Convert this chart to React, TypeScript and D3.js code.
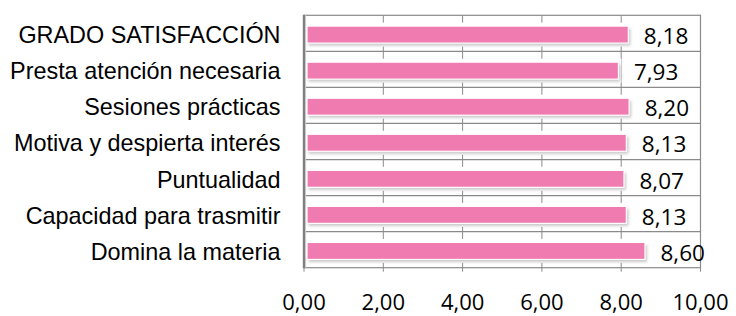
import { useMemo } from "react";
import * as d3 from "d3";

// categories top to bottom, values as printed on the chart
const categories = [
  "GRADO SATISFACCIÓN",
  "Presta atención necesaria",
  "Sesiones prácticas",
  "Motiva y despierta interés",
  "Puntualidad",
  "Capacidad para trasmitir",
  "Domina la materia",
];
const values = [8.18, 7.93, 8.2, 8.13, 8.07, 8.13, 8.6];
const xTicks = [0, 2, 4, 6, 8, 10];

const W = 736;
const H = 316;
const fmt = (v: number) => v.toFixed(2).replace(".", ",");

export default function App() {
  const x = useMemo(() => d3.scaleLinear().domain([0, 10]).range([304, 700.5]), []);
  const y = useMemo(
    () => d3.scaleBand<string>().domain(categories).range([15.3, 267.7]).padding(0),
    []
  );
  const left = x(0);
  const right = x(10);
  const top = y.range()[0];
  const bottom = y.range()[1];

  const barH = 17;
  const barOff = 10.8; // bar sits a little below the band centre

  return (
    <div style={{ position: "fixed", left: 0, top: 0 }}>
      <svg width={W} height={H} style={{ display: "block", background: "#fff" }}>
        <defs>
          <filter id="blur" x="-10%" y="-50%" width="120%" height="200%">
            <feGaussianBlur stdDeviation="1.4" />
          </filter>
        </defs>

        {/* vertical gridlines, with little ticks under the frame */}
        {xTicks.map((t) => (
          <line
            key={"g" + t}
            x1={x(t)}
            x2={x(t)}
            y1={top}
            y2={bottom + 4}
            stroke="#8a8a8a"
            strokeWidth={1}
          />
        ))}

        {/* row separators */}
        {categories.map((c, i) =>
          i === 0 ? null : (
            <line
              key={"s" + c}
              x1={left}
              x2={right}
              y1={y(c)!}
              y2={y(c)!}
              stroke="#8a8a8a"
              strokeWidth={1.2}
            />
          )
        )}

        {/* frame */}
        <rect x={left} y={top} width={right - left} height={bottom - top} fill="none" stroke="#8a8a8a" strokeWidth={1.2} />

        {/* bars */}
        {categories.map((c, i) => {
          const by = y(c)! + barOff;
          const bx = left + 3;
          const w = x(values[i]) - bx;
          return (
            <g key={"b" + c}>
              <rect x={bx - 3} y={by - 3.5} width={w + 6} height={barH + 7} fill="#fff" />
              <rect x={bx + 1.5} y={by + 2.5} width={w + 0.5} height={barH} fill="#9a9a9a" opacity={0.55} filter="url(#blur)" />
              <rect x={bx} y={by} width={w} height={barH} fill="#f07bb0" stroke="#ffffff" strokeWidth={1.2} />
            </g>
          );
        })}

        {/* category axis line */}
        <line x1={left} x2={left} y1={top - 0.5} y2={bottom + 0.5} stroke="#808080" strokeWidth={2.4} />
        <line x1={left + 1.6} x2={left + 1.6} y1={top} y2={bottom} stroke="#c8c8c8" strokeWidth={1} />

        {/* category labels */}
        {categories.map((c) => (
          <text
            key={"l" + c}
            x={280.5}
            y={y(c)! + 28}
            textAnchor="end"
            fontFamily="'Liberation Sans', Arial, sans-serif"
            fontSize={23.4}
            fill="#000"
          >
            {c}
          </text>
        ))}

        {/* value labels */}
        {categories.map((c, i) => (
          <text
            key={"v" + c}
            x={x(values[i]) + 15.5}
            y={y(c)! + 29}
            fontFamily="'Open Sans', sans-serif"
            fontSize={22.5}
            fill="#000"
          >
            {fmt(values[i])}
          </text>
        ))}

        {/* value axis labels */}
        {xTicks.map((t) => (
          <text
            key={"t" + t}
            x={x(t)}
            y={309.5}
            textAnchor="middle"
            fontFamily="'Open Sans', sans-serif"
            fontSize={22}
            fill="#000"
          >
            {fmt(t)}
          </text>
        ))}
      </svg>
    </div>
  );
}
